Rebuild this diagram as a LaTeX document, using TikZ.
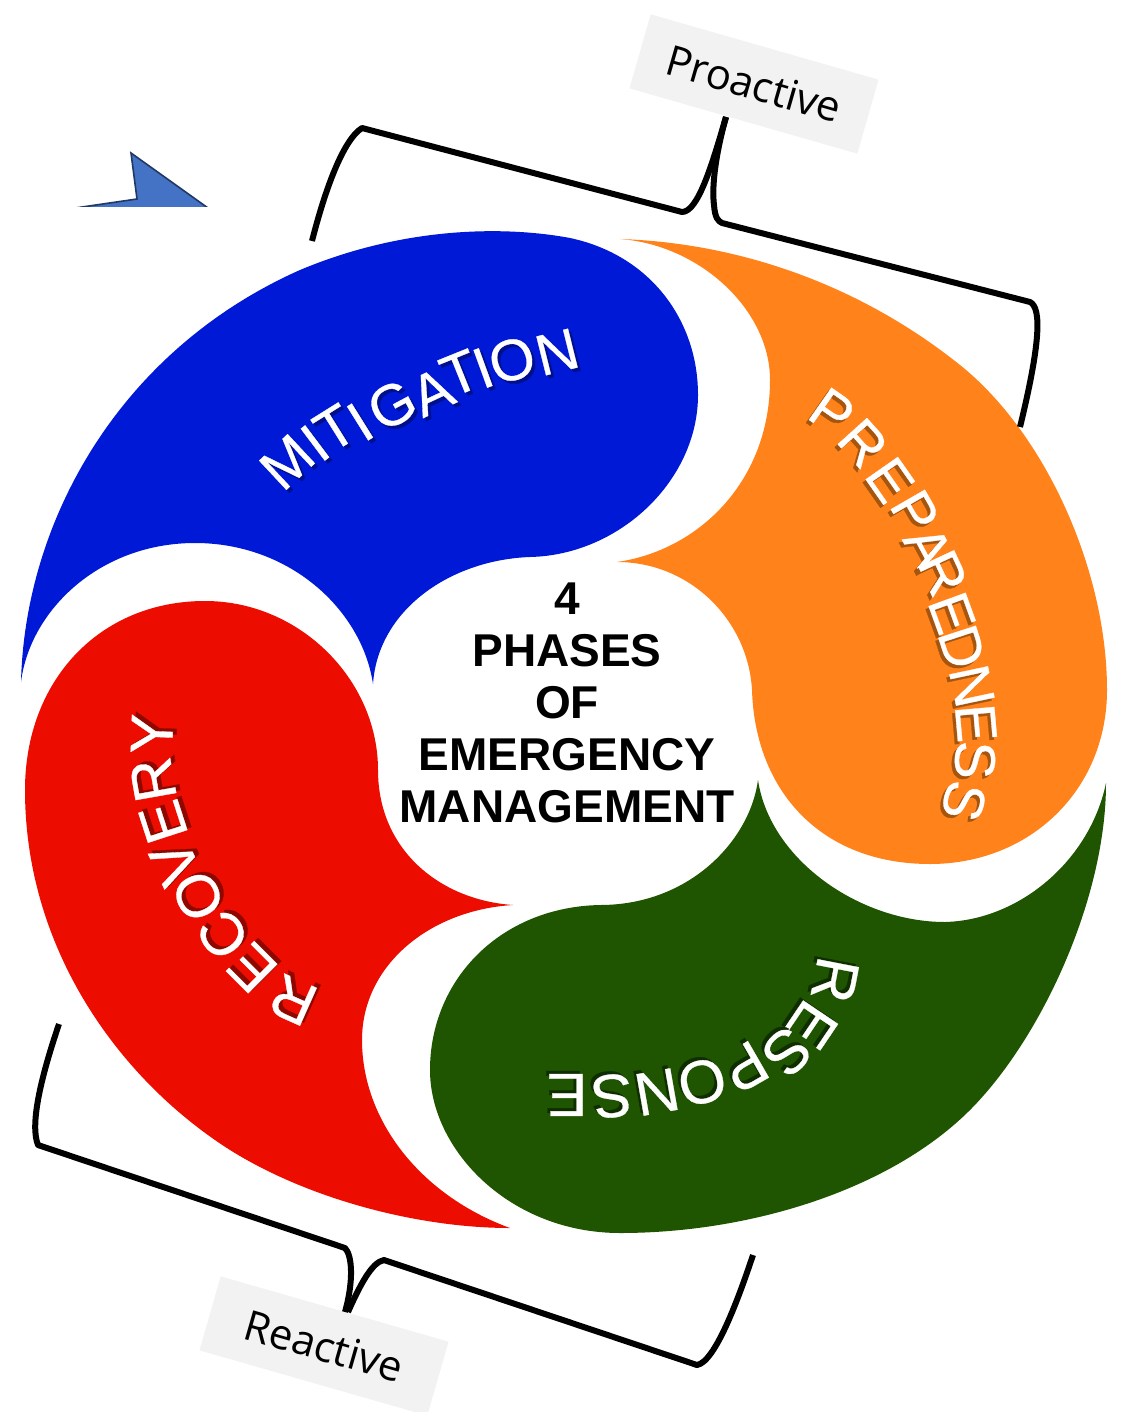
\documentclass[tikz,border=0pt]{standalone}
\usepackage{fontspec}
\setmainfont{Liberation Sans}
\newfontfamily\labelfont{Open Sans}
\newfontfamily\petalfont[FakeBold=0.5]{Liberation Sans}
\definecolor{cblue}{HTML}{0019D6}
\definecolor{corange}{HTML}{FF831A}
\definecolor{cgreen}{HTML}{1F5500}
\definecolor{cred}{HTML}{ED0D00}
\definecolor{sblue}{HTML}{00108C}
\definecolor{sorange}{HTML}{A6550F}
\definecolor{sgreen}{HTML}{0F2E00}
\definecolor{sred}{HTML}{8E0800}
\definecolor{boxgray}{HTML}{F2F2F2}
\definecolor{arrowfill}{HTML}{4472C4}
\definecolor{arrowline}{HTML}{1F3864}
\tikzset{
  x=1pt,y=-1pt,
  bracketline/.style={draw=black,line width=6pt,line join=round},
  tagbox/.style={fill=boxgray,minimum width=237pt,minimum height=77pt,inner sep=0pt,rotate=-16,
    font=\labelfont\fontsize{42}{42}\selectfont},
  petal/.style={draw=none},
  petalletter/.style={inner sep=0pt,anchor=center},
  centertext/.style={align=center,inner sep=0pt,font=\bfseries\fontsize{46}{52}\selectfont},
}
% prefix, size, shadow colour, shadow dx, dy, list x/y/angle/letter
\newcommand{\petalword}[6]{%
  \foreach \lx/\ly/\la/\lc [count=\ln] in {#6}{%
    \node[petalletter,text=#3,rotate=\la,font=\petalfont\fontsize{#2}{#2}\selectfont] (#1s\ln) at (\lx+#4,\ly+#5) {\lc};
    \node[petalletter,text=white,rotate=\la,font=\petalfont\fontsize{#2}{#2}\selectfont] (#1\ln) at (\lx,\ly) {\lc};
  }}
\begin{document}
\begin{tikzpicture}
\useasboundingbox (0,0) rectangle (1121,1412);
% cursor shape, cut off at its lower edge
\begin{scope}
\clip (0,0) rectangle (1121,207);
\draw[fill=arrowfill,draw=arrowline,line width=1.6pt,line join=miter]
  (41,213) -- (137,199) -- (131,153) -- (215,213) -- cycle;
\end{scope}
% petals
\path[petal,fill=cblue] (21,682) .. controls (25,520) and (120,350) .. (300,270)
  .. controls (400,228) and (500,225) .. (570,238)
  .. controls (650,255) and (698,320) .. (698,395)
  .. controls (698,480) and (620,555) .. (530,557)
  .. controls (450,560) and (378,610) .. (373,684)
  .. controls (362,610) and (290,543) .. (195,543)
  .. controls (100,543) and (30,610) .. (21,682) -- cycle;
\path[petal,fill=corange] (620,239) .. controls (740,243) and (860,285) .. (960,365)
  .. controls (1045,433) and (1107,570) .. (1107,690)
  .. controls (1107,790) and (1030,864) .. (930,864)
  .. controls (820,864) and (755,790) .. (752,690)
  .. controls (748,620) and (690,562) .. (617,562)
  .. controls (700,550) and (770,480) .. (770,380)
  .. controls (770,310) and (700,245) .. (620,239) -- cycle;
\path[petal,fill=cgreen] (758,780) .. controls (770,860) and (860,922) .. (945,922)
  .. controls (1020,920) and (1090,860) .. (1106,783)
  .. controls (1106,900) and (1040,1040) .. (970,1110)
  .. controls (890,1190) and (750,1233) .. (620,1233)
  .. controls (510,1233) and (430,1150) .. (430,1070)
  .. controls (430,980) and (500,907) .. (600,905)
  .. controls (690,905) and (750,840) .. (758,780) -- cycle;
\path[petal,fill=cred] (513,905) .. controls (440,900) and (378,850) .. (378,770)
  .. controls (378,680) and (300,601) .. (205,601)
  .. controls (100,601) and (25,680) .. (25,790)
  .. controls (25,950) and (120,1080) .. (230,1150)
  .. controls (310,1200) and (420,1228) .. (510,1228)
  .. controls (420,1195) and (362,1120) .. (362,1040)
  .. controls (362,965) and (430,910) .. (513,905) -- cycle;
% words on the petals: shadow, then white
\petalword{mit}{58}{sblue}{3}{3}{287/462/43/M,315/443/37/I,335/428/32/T,360/422/32/I,392/405/28/G,432/392/25/A,460/373/22/T,483/368/20/I,512/360/18/O,557/352/14/N}
\petalword{pre}{57}{sorange}{-3}{3}{832/412/-35/P,863/443/-48/R,890/480/-55/E,915/512/-60/P,928/547/-62/A,943/573/-65/R,952/613/-70/E,962/647/-72/D,972/686/-78/N,976/723/-85/E,975/760/-92/S,964/801/-105/S}
\petalword{res}{61}{sgreen}{-3}{-3}{835/980/-101/R,812/1025/-124/E,787/1052/-135/S,745/1067/-150/P,702/1082/-165/O,657/1092/-170/N,612/1096/-175/S,567/1095/-180/E}
\petalword{rec}{60}{sred}{4}{-3}{293/1000/156/R,252/968/135/E,223/935/125/C,198/896/115/O,175/863/115/V,163/822/108/E,153/780/100/R,152/734/88/Y}
% centre
\node[centertext] (centre) at (567,703) {4\\PHASES\\OF\\EMERGENCY\\MANAGEMENT};
% labels
\node[tagbox] (proactive) at (754,84) {Proactive};
\node[tagbox] (reactive) at (324,1346) {Reactive};
\coordinate (protip) at (726,117);
\coordinate (retip) at (345,1312);
% brackets
\draw[bracketline] (312,241) .. controls (325,190) and (343,140) .. (362,128)
  -- (682,212) .. controls (698,212) and (712,165) .. (protip);
\draw[bracketline] (protip) .. controls (714,160) and (712,190) .. (714,205)
  .. controls (715,218) and (718,221) .. (722,223)
  -- (1030,302) .. controls (1042,308) and (1040,345) .. (1020,427);
\draw[bracketline] (59,1024) .. controls (40,1080) and (30,1125) .. (38,1145)
  -- (345,1248) .. controls (352,1255) and (354,1280) .. (retip);
\draw[bracketline] ([xshift=3pt]retip) .. controls (360,1285) and (372,1262) .. (384,1260)
  -- (697,1365) .. controls (715,1362) and (738,1300) .. (753,1255);
\end{tikzpicture}
\end{document}
